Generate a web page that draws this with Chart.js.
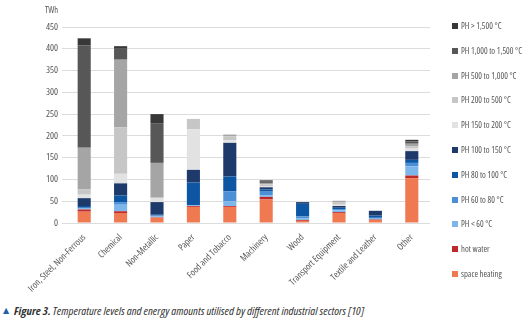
<!DOCTYPE html>
<html>
<head>
<meta charset="utf-8">
<script src="https://cdn.jsdelivr.net/npm/chart.js@4.4.0/dist/chart.umd.min.js"></script>
<style>
  html, body { margin: 0; padding: 0; background: #fff; }
  body { width: 529px; height: 321px; position: relative; overflow: hidden; }
  #wrap { position: absolute; left: 0; top: 0; width: 529px; height: 293px; }
  #unit { position: absolute; left: 45px; top: 3px; font-size: 8.5px; color: #555; white-space: nowrap; transform-origin: 0 0; }
  #legend { position: absolute; left: 452px; top: 0; color: #555; }
  .li { position: absolute; left: 0; white-space: nowrap; height: 10px; line-height: 10px; }
  .sw { position: absolute; left: 0; top: 2px; width: 6px; height: 6px; }
  .lt { position: absolute; left: 9px; top: 0; transform-origin: 0 50%; white-space: nowrap; }
  #caption { position: absolute; left: 3px; top: 305px; color: #333; white-space: nowrap; }
  #caption .tri { position: absolute; left: 0; top: 1px; color: #1f5fa8; font-size: 8px; font-family: 'DejaVu Sans', sans-serif; }
  #captxt { position: absolute; left: 11px; top: -1px; font-style: italic; transform-origin: 0 50%; white-space: nowrap; }
</style>
</head>
<body>
<div id="wrap"><canvas id="c"></canvas></div>
<div id="unit">TWh</div>
<div id="legend"></div>
<div id="caption"><span class="tri">&#9650;</span><span id="captxt"><b>Figure 3.</b> Temperature levels and energy amounts utilised by different industrial sectors [10]</span></div>
<script>
const categories = ["Iron, Steel, Non-Ferrous", "Chemical", "Non-Metallic", "Paper", "Food and Tobacco",
  "Machinery", "Wood", "Transport Equipment", "Textile and Leather", "Other"];

const seriesNames = ["space heating", "hot water", "PH < 60 \u00b0C", "PH 60 to 80 \u00b0C", "PH 80 to 100 \u00b0C",
  "PH 100 to 150 \u00b0C", "PH 150 to 200 \u00b0C", "PH 200 to 500 \u00b0C", "PH 500 to 1,000 \u00b0C",
  "PH 1,000 to 1,500 \u00b0C", "PH > 1,500 \u00b0C"];

const spaceHeating = [26, 23, 12, 37, 37, 54, 5, 23, 7, 103];
const hotWater     = [5, 4, 1, 2, 2, 6, 2, 2, 1, 6];
const phLt60       = [2, 15, 2, 1, 11, 4, 4, 4, 2, 21];
const ph60to80     = [2, 6, 2, 1, 23, 8, 4, 3, 2, 8];
const ph80to100    = [4, 15, 2, 52, 34, 5, 29, 3, 5, 7];
const ph100to150   = [18, 28, 29, 29, 77, 5, 4, 4, 11, 20];
const ph150to200   = [8, 22, 10, 93, 6, 3, 3, 3, 0, 6];
const ph200to500   = [12, 107, 0, 24, 9, 4, 0, 5, 0, 5];
const ph500to1000  = [96, 155, 80, 0, 4, 3, 0, 4, 0, 6];
const ph1000to1500 = [235, 25, 90, 0, 0, 4, 0, 0, 0, 5];
const phGt1500     = [16, 6, 22, 0, 0, 2, 0, 0, 0, 4];

const yTicks = [0, 50, 100, 150, 200, 250, 300, 350, 400, 450];

const seriesValues = [spaceHeating, hotWater, phLt60, ph60to80, ph80to100, ph100to150,
  ph150to200, ph200to500, ph500to1000, ph1000to1500, phGt1500];
const colors = ["#ef7a52", "#be2a2c", "#7cb6ea", "#4b8fd6", "#0d56a3", "#1d3a6b",
  "#e2e2e2", "#c6c6c6", "#a5a5a5", "#575757", "#383838"];

// ---- choose the narrowest available font face ----
const mctx = document.createElement('canvas').getContext('2d');
function w(font, txt) { mctx.font = font; return mctx.measureText(txt).width; }
const SAMPLE = "Iron, Steel, Non-Ferrous";
const cands = [
  { stretch: '', fam: "'Liberation Sans Narrow'" },
  { stretch: '', fam: "'DejaVu Sans Condensed'" },
  { stretch: 'condensed', fam: "'DejaVu Sans'" },
  { stretch: 'condensed', fam: "'Noto Sans'" },
  { stretch: 'condensed', fam: "'Open Sans'" },
  { stretch: '', fam: "'Roboto Condensed'" },
  { stretch: '', fam: "'Liberation Sans'" }
];
let best = { stretch: '', fam: "'Liberation Sans'", width: w("20px 'Liberation Sans'", SAMPLE) };
for (const c of cands) {
  const f1 = (c.stretch ? 'normal ' + c.stretch + ' ' : '') + "20px " + c.fam + ", monospace";
  const wc = w(f1, SAMPLE);
  if (Math.abs(wc - w("20px monospace", SAMPLE)) < 0.01) continue; // not installed
  if (c.stretch) {
    const wn = w("20px " + c.fam + ", monospace", SAMPLE);
    if (wc >= wn - 0.01) continue; // no condensed face
  }
  if (wc < best.width) best = { stretch: c.stretch, fam: c.fam, width: wc };
}
const FAM = best.fam + ", sans-serif";
// Chart.js builds "style weight size family"; the stretch keyword rides in the weight slot
const WEIGHT = best.stretch ? best.stretch : undefined;
const PRE = best.stretch ? 'normal ' + best.stretch + ' ' : '';
const xSize = Math.min(9.5, 20 * 77 / w(PRE + "20px " + FAM, SAMPLE));
const ySize = Math.min(9.5, 20 * 12.3 / w(PRE + "20px " + FAM, "450"));

const datasets = seriesNames.map((n, i) => ({
  label: n,
  data: seriesValues[i],
  backgroundColor: colors[i],
  borderWidth: 0,
  barPercentage: 0.36,
  categoryPercentage: 1.0
}));

new Chart(document.getElementById('c'), {
  type: 'bar',
  data: { labels: categories, datasets },
  options: {
    responsive: true,
    maintainAspectRatio: false,
    animation: false,
    layout: { padding: { top: 27, right: 99, left: 0, bottom: 0 } },
    plugins: { legend: { display: false }, tooltip: { enabled: false } },
    scales: {
      x: {
        stacked: true,
        grid: { display: false },
        border: { display: false },
        ticks: {
          autoSkip: false, maxRotation: 45, minRotation: 45,
          color: '#555', font: { family: FAM, weight: WEIGHT, size: xSize }, padding: 1
        },
        afterFit: (s) => { s.height = 70; }
      },
      y: {
        stacked: true,
        min: 0, max: 450,
        afterBuildTicks: (s) => { s.ticks = yTicks.map(v => ({ value: v })); },
        grid: { color: '#dcdcdc', lineWidth: 1, tickLength: 4, tickColor: '#dcdcdc' },
        border: { display: false },
        ticks: { color: '#555', font: { family: FAM, weight: WEIGHT, size: ySize }, padding: 4 },
        afterFit: (s) => { s.width = 66; }
      }
    }
  }
});

function styleText(el, size, targetW) {
  el.style.fontFamily = FAM;
  if (best.stretch) el.style.fontStretch = best.stretch;
  el.style.fontSize = size + 'px';
  if (targetW) {
    const r = el.getBoundingClientRect().width;
    if (r > 0) el.style.transform = 'scaleX(' + (targetW / r) + ')';
  }
}
styleText(document.getElementById('unit'), ySize, 13);

const lg = document.getElementById('legend');
const rows = [];
for (let k = seriesNames.length - 1, row = 0; k >= 0; k--, row++) {
  const d = document.createElement('div');
  d.className = 'li';
  d.style.top = (21 + row * 24.8) + 'px';
  d.innerHTML = '<span class="sw" style="background:' + colors[k] + '"></span><span class="lt"></span>';
  d.querySelector('.lt').textContent = seriesNames[k];
  lg.appendChild(d);
  rows.push(d.querySelector('.lt'));
}
rows.forEach(el => { el.style.fontFamily = FAM; if (best.stretch) el.style.fontStretch = best.stretch; el.style.fontSize = '9.5px'; });
const refW = rows[1].getBoundingClientRect().width;
const lsx = refW > 0 ? 61 / refW : 1;
rows.forEach(el => { el.style.transform = 'scaleX(' + lsx + ')'; });

styleText(document.getElementById('captxt'), 10, 350);
</script>
</body>
</html>
